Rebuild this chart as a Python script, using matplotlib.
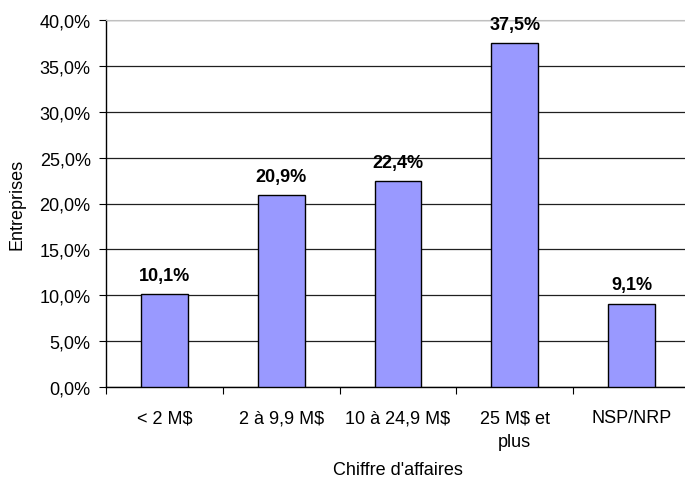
import matplotlib
matplotlib.use('Agg')
import matplotlib.pyplot as plt
from matplotlib.ticker import FuncFormatter

# data
categories = ['< 2 M$', '2 à 9,9 M$', '10 à 24,9 M$', '25 M$ et\nplus', 'NSP/NRP']
values = [10.1, 20.9, 22.4, 37.5, 9.1]
labels = ['10,1%', '20,9%', '22,4%', '37,5%', '9,1%']

plt.rcParams['font.family'] = ['Liberation Sans', 'DejaVu Sans']

fig = plt.figure(figsize=(6.85, 4.81), dpi=100)
# plot area runs a little past the right edge, as in the original
ax = fig.add_axes([106 / 685, 1 - 388 / 481, 584 / 685, 367 / 481])

x = range(len(categories))
ax.bar(x, values, width=0.4, color='#9999FF', edgecolor='black', linewidth=1, zorder=3)

for xi, v, lab in zip(x, values, labels):
    ax.text(xi, v + 1.1, lab, ha='center', va='bottom', fontsize=13, fontweight='bold')

ax.set_xlim(-0.5, len(categories) - 0.5)
ax.set_ylim(0, 40)
ax.set_yticks(range(0, 41, 5))
ax.yaxis.set_major_formatter(FuncFormatter(lambda v, p: f'{v:.1f}%'.replace('.', ',')))
ax.grid(axis='y', color='#202020', linewidth=0.9, zorder=0)

ax.set_xticks([i - 0.5 for i in range(len(categories) + 1)], minor=False)
ax.set_xticklabels([])
ax.set_xticks(list(x), minor=True)
ax.set_xticklabels(categories, minor=True, fontsize=13, linespacing=1.5)
ax.tick_params(axis='x', which='minor', length=0, pad=16)
ax.tick_params(axis='x', which='major', length=5, direction='out')
ax.tick_params(axis='y', length=5, labelsize=13, pad=6)

for s in ['top', 'right']:
    ax.spines[s].set_color('#c0c0c0')
ax.spines['left'].set_linewidth(1)
ax.spines['bottom'].set_linewidth(1)

ax.set_ylabel('Entreprises', fontsize=13, labelpad=10)
ax.set_xlabel("Chiffre d'affaires", fontsize=13, labelpad=8)

fig.savefig('out.png', dpi=100)
